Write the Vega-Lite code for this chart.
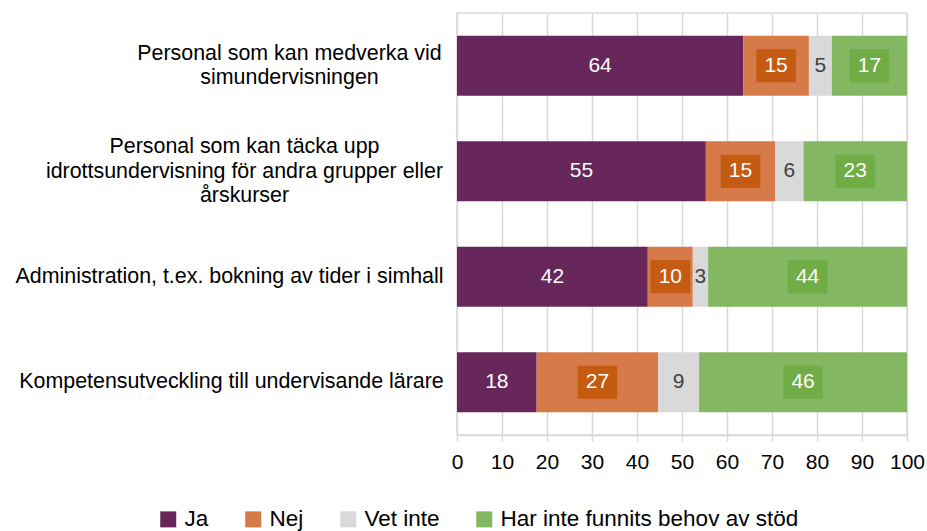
{
  "$schema": "https://vega.github.io/schema/vega-lite/v6.json",
  "width": 450,
  "height": 422,
  "autosize": {"type": "none"},
  "padding": {"left": 457, "top": 13, "right": 20, "bottom": 96},
  "background": "white",
  "config": {"font": "Liberation Sans", "view": {"stroke": "#d9d9d9", "strokeWidth": 1.5}},
  "data": {"values": [
    {"q": "Personal som kan medverka vid|simundervisningen", "s": "Ja", "k": 1, "v": 63.6},
    {"q": "Personal som kan medverka vid|simundervisningen", "s": "Nej", "k": 2, "v": 14.6},
    {"q": "Personal som kan medverka vid|simundervisningen", "s": "Vet inte", "k": 3, "v": 5.1},
    {"q": "Personal som kan medverka vid|simundervisningen", "s": "Har inte funnits behov av stöd", "k": 4, "v": 16.7},
    {"q": "Personal som kan täcka upp|idrottsundervisning för andra grupper eller|årskurser", "s": "Ja", "k": 1, "v": 55.3},
    {"q": "Personal som kan täcka upp|idrottsundervisning för andra grupper eller|årskurser", "s": "Nej", "k": 2, "v": 15.4},
    {"q": "Personal som kan täcka upp|idrottsundervisning för andra grupper eller|årskurser", "s": "Vet inte", "k": 3, "v": 6.3},
    {"q": "Personal som kan täcka upp|idrottsundervisning för andra grupper eller|årskurser", "s": "Har inte funnits behov av stöd", "k": 4, "v": 23.0},
    {"q": "Administration, t.ex. bokning av tider i simhall", "s": "Ja", "k": 1, "v": 42.4},
    {"q": "Administration, t.ex. bokning av tider i simhall", "s": "Nej", "k": 2, "v": 10.0},
    {"q": "Administration, t.ex. bokning av tider i simhall", "s": "Vet inte", "k": 3, "v": 3.4},
    {"q": "Administration, t.ex. bokning av tider i simhall", "s": "Har inte funnits behov av stöd", "k": 4, "v": 44.2},
    {"q": "Kompetensutveckling till undervisande lärare", "s": "Ja", "k": 1, "v": 17.7},
    {"q": "Kompetensutveckling till undervisande lärare", "s": "Nej", "k": 2, "v": 27.0},
    {"q": "Kompetensutveckling till undervisande lärare", "s": "Vet inte", "k": 3, "v": 9.1},
    {"q": "Kompetensutveckling till undervisande lärare", "s": "Har inte funnits behov av stöd", "k": 4, "v": 46.2}
  ]},
  "transform": [
    {"stack": "v", "groupby": ["q"], "sort": [{"field": "k"}], "as": ["v0", "v1"]},
    {"calculate": "(datum.v0 + datum.v1) / 2", "as": "mid"}
  ],
  "encoding": {
    "y": {
      "field": "q", "type": "nominal", "sort": null,
      "scale": {"paddingInner": 0.43, "paddingOuter": 0.215},
      "axis": {
        "title": null, "domain": false, "ticks": false,
        "labelFontSize": 21.4, "labelColor": "#000000", "labelLimit": 0,
        "labelAlign": "center", "labelLineHeight": 24.5,
        "labelExpr": "split(datum.label, '|')",
        "labelPadding": {
          "condition": [
            {"test": "datum.value == 'Personal som kan medverka vid|simundervisningen'", "value": 168},
            {"test": "datum.value == 'Personal som kan täcka upp|idrottsundervisning för andra grupper eller|årskurser'", "value": 213},
            {"test": "datum.value == 'Administration, t.ex. bokning av tider i simhall'", "value": 228}
          ],
          "value": 226
        },
        "labelOffset": {
          "condition": [
            {"test": "datum.value == 'Personal som kan medverka vid|simundervisningen'", "value": -12},
            {"test": "datum.value == 'Personal som kan täcka upp|idrottsundervisning för andra grupper eller|årskurser'", "value": -24}
          ],
          "value": 0
        }
      }
    }
  },
  "layer": [
    {
      "mark": {"type": "bar"},
      "encoding": {
        "x": {
          "field": "v0", "type": "quantitative",
          "scale": {"domain": [0, 100], "nice": false},
          "axis": {
            "title": null, "values": [0, 10, 20, 30, 40, 50, 60, 70, 80, 90, 100],
            "grid": true, "gridColor": "#d9d9d9", "gridWidth": 1.5,
            "domainColor": "#d9d9d9", "domainWidth": 1.5,
            "tickColor": "#d9d9d9", "tickSize": 6, "tickWidth": 1.5,
            "labelFontSize": 21, "labelColor": "#000000", "labelPadding": 10, "labelFlush": false
          }
        },
        "x2": {"field": "v1"},
        "color": {
          "field": "s", "type": "nominal",
          "scale": {
            "domain": ["Ja", "Nej", "Vet inte", "Har inte funnits behov av stöd"],
            "range": ["#68275B", "#D57A48", "#D9D9D9", "#83B761"]
          },
          "legend": {
            "orient": "none", "legendX": -300, "legendY": 495,
            "direction": "horizontal", "title": null,
            "labelFontSize": 22.5, "labelColor": "#000000", "labelLimit": 0,
            "symbolType": "square", "symbolSize": 256, "symbolStrokeWidth": 0,
            "columnPadding": 33, "labelOffset": 5, "padding": 0
          }
        }
      }
    },
    {
      "transform": [{"filter": "datum.s == 'Nej' || datum.s == 'Har inte funnits behov av stöd'"}],
      "mark": {"type": "point", "shape": "M-1.2,-1H1.2V1H-1.2Z", "filled": true, "size": 1089, "opacity": 1, "strokeWidth": 0},
      "encoding": {
        "x": {"field": "mid", "type": "quantitative"},
        "color": {"condition": {"test": "datum.s == 'Nej'", "value": "#C55A11"}, "value": "#70AD47"}
      }
    },
    {
      "mark": {"type": "text", "fontSize": 21, "baseline": "middle", "align": "center"},
      "encoding": {
        "x": {"field": "mid", "type": "quantitative"},
        "text": {"field": "v", "type": "quantitative", "format": ".0f"},
        "color": {"condition": {"test": "datum.s == 'Vet inte'", "value": "#404040"}, "value": "#FFFFFF"}
      }
    }
  ]
}
